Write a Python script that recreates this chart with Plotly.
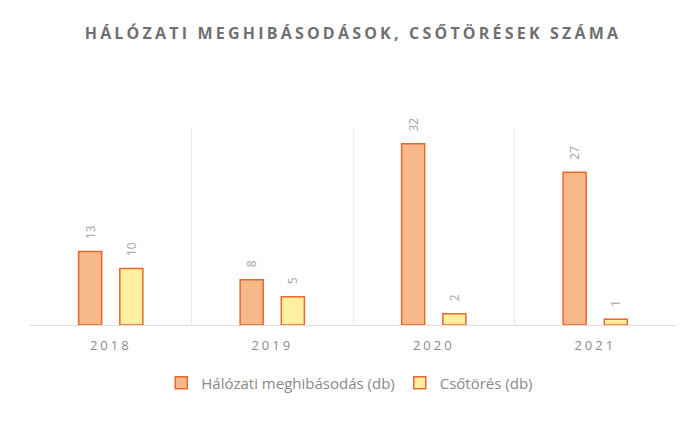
import plotly.graph_objects as go

years = ["2018", "2019", "2020", "2021"]
halozati = [13, 8, 32, 27]
csotores = [10, 5, 2, 1]
title_text = "HÁLÓZATI MEGHIBÁSODÁSOK, CSŐTÖRÉSEK SZÁMA"
name1 = "Hálózati meghibásodás (db)"
name2 = "Csőtörés (db)"

FONT = "Open Sans"
label_tmpl = "\u00a0\u00a0\u00a0%{y}"
fig = go.Figure()
fig.add_trace(go.Bar(
    x=years, y=halozati, name=name1,
    marker=dict(color="#F7B98A", line=dict(color="#EA662C", width=1.5)),
    texttemplate=label_tmpl, textposition="outside", textangle=-90,
    textfont=dict(color="#a3a3a3", size=12, family=FONT),
    cliponaxis=False,
))
fig.add_trace(go.Bar(
    x=years, y=csotores, name=name2,
    marker=dict(color="#FFF0A0", line=dict(color="#EA662C", width=1.5)),
    texttemplate=label_tmpl, textposition="outside", textangle=-90,
    textfont=dict(color="#a3a3a3", size=12, family=FONT),
    cliponaxis=False,
))
fig.update_layout(
    width=687, height=423,
    paper_bgcolor="white", plot_bgcolor="white",
    margin=dict(l=30, r=11, t=128, b=98, autoexpand=False),
    barmode="group", bargap=0.49, bargroupgap=0.44,
    title=dict(text=title_text, xref="paper", x=0.5, xanchor="center", y=0.922, yanchor="middle",
               font=dict(family=FONT, size=16, color="#707070", weight="bold")),
    xaxis=dict(type="category", tickson="boundaries", showgrid=True, gridcolor="#ececec",
               gridwidth=1, showline=True, linecolor="#dcdcdc", ticks="",
               ticklabelstandoff=8,
               tickfont=dict(family=FONT, size=13, color="#8a8a8a")),
    yaxis=dict(range=[0, 34.8], visible=False, showgrid=False, zeroline=False),
    legend=dict(orientation="h", x=0.495, xanchor="center", y=-0.295, yanchor="middle",
                font=dict(family=FONT, size=15, color="#8a8a8a"),
                itemwidth=30, traceorder="normal"),
    showlegend=True,
)
post = """
document.body.style.margin='0';
function ls(){
 document.querySelectorAll('.gtitle').forEach(function(e){e.style.letterSpacing='3.2px';});
 document.querySelectorAll('.xtick text').forEach(function(e){e.style.letterSpacing='3px';});
}
ls(); setTimeout(ls, 200);
"""
fig.write_html("out.html", post_script=post, config={"displayModeBar": False})
